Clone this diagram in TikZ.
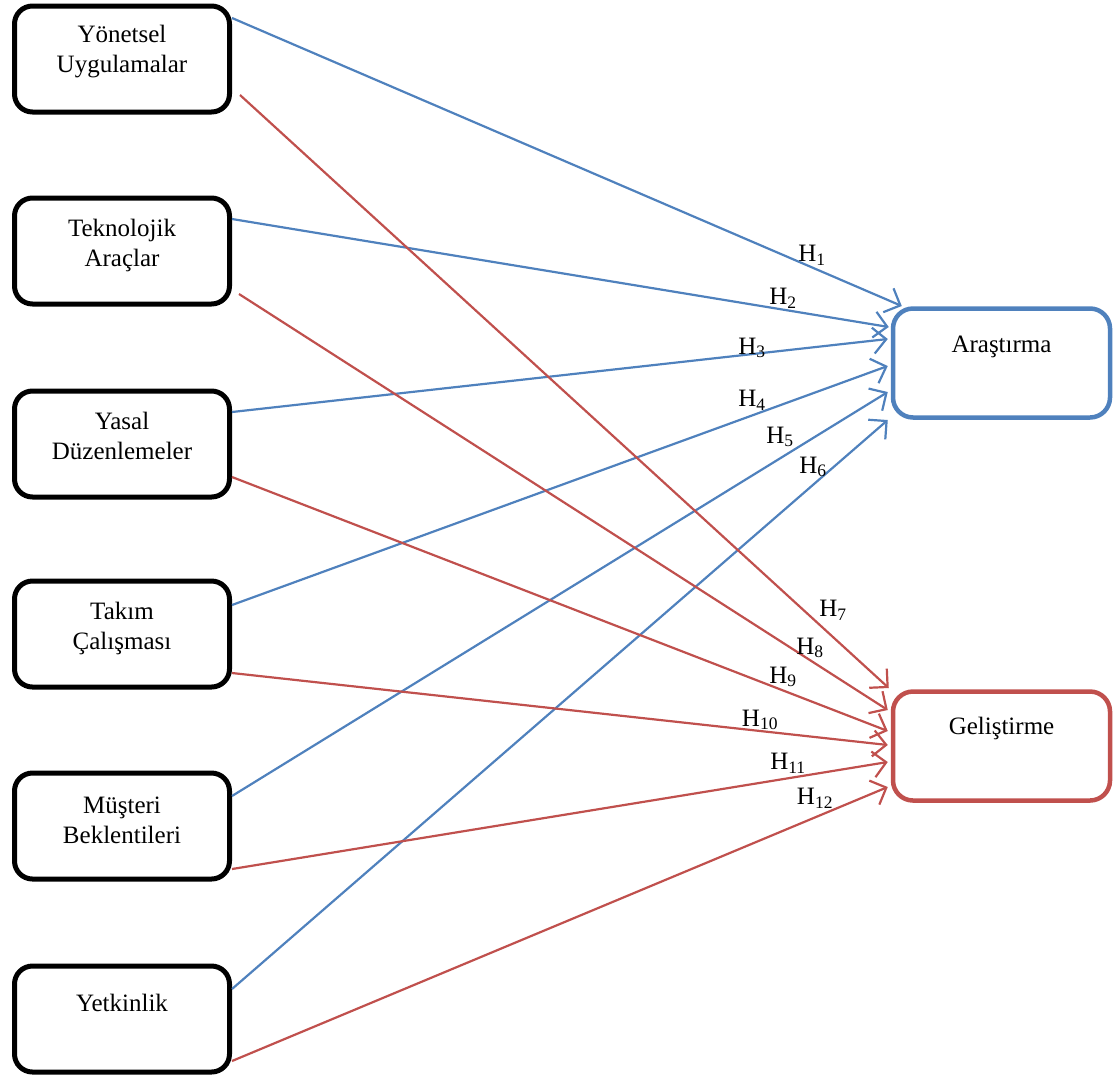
\documentclass[tikz,border=0pt]{standalone}
\usepackage{fontspec}
\setmainfont{Liberation Serif}
\usetikzlibrary{arrows.meta}
\definecolor{arblue}{HTML}{4F81BD}
\definecolor{gered}{HTML}{C0504D}
\tikzset{
	srcbox/.style={draw=black, line width=5pt, rounded corners=18pt,
		minimum width=215pt, minimum height=106pt, inner sep=0pt},
	tgtbox/.style={line width=4.5pt, rounded corners=20pt,
		minimum width=217pt, minimum height=109pt, inner sep=0pt},
	boxtext/.style={align=center, inner sep=0pt,
		font=\fontsize{25}{30}\selectfont},
	link/.style={line width=2.2pt,
		-{Straight Barb[length=13pt,width=26pt]}},
	hlabel/.style={inner sep=0pt, font=\fontsize{25}{30}\selectfont},
}
\begin{document}
\begin{tikzpicture}[x=1pt,y=-1pt]
	\useasboundingbox (0,0) rectangle (1115,1077);
	% kaynak kutulari
	\node[srcbox] (b1) at (122,59) {};
	\node[srcbox] (b2) at (122,251) {};
	\node[srcbox] (b3) at (122,444) {};
	\node[srcbox] (b4) at (122,634) {};
	\node[srcbox] (b5) at (122,826) {};
	\node[srcbox] (b6) at (122,1019) {};
	\node[boxtext] (t1) at ([yshift=7pt]b1.center) {Yönetsel\\Uygulamalar};
	\node[boxtext] (t2) at ([yshift=6pt]b2.center) {Teknolojik\\Araçlar};
	\node[boxtext] (t3) at ([yshift=8pt]b3.center) {Yasal\\Düzenlemeler};
	\node[boxtext] (t4) at ([yshift=6pt]b4.center) {Takım\\Çalışması};
	\node[boxtext] (t5) at ([yshift=6pt]b5.center) {Müşteri\\Beklentileri};
	\node[boxtext] (t6) at ([yshift=16pt]b6.center) {Yetkinlik};
	% hedef kutulari
	\node[tgtbox, draw=arblue] (ar) at (1001.5,363) {};
	\node[tgtbox, draw=gered] (ge) at (1001.5,746) {};
	\node[boxtext] (tar) at ([yshift=16pt]ar.center) {Araştırma};
	\node[boxtext] (tge) at ([yshift=18pt]ge.center) {Geliştirme};
	% arastirma oklari
	\draw[link, arblue] ([yshift=41pt]b1.east) -- ([xshift=11pt,yshift=57pt]ar.west);
	\draw[link, arblue] ([yshift=32pt]b2.east) -- ([xshift=-2pt,yshift=36pt]ar.west);
	\draw[link, arblue] ([yshift=32pt]b3.east) -- ([xshift=-3pt,yshift=24pt]ar.west);
	\draw[link, arblue] ([yshift=29pt]b4.east) -- ([xshift=-3pt,yshift=-3pt]ar.west);
	\draw[link, arblue] ([yshift=30pt]b5.east) -- ([xshift=-3pt,yshift=-29pt]ar.west);
	\draw[link, arblue] ([yshift=30pt]b6.east) -- ([xshift=-3pt,yshift=-57pt]ar.west);
	% gelistirme oklari
	\draw[link, gered] ([xshift=8pt,yshift=-36pt]b1.east) -- ([xshift=-2pt,yshift=58pt]ge.west);
	\draw[link, gered] ([xshift=7pt,yshift=-43pt]b2.east) -- ([xshift=-3pt,yshift=36pt]ge.west);
	\draw[link, gered] ([yshift=-33pt]b3.east) -- ([xshift=-3pt,yshift=15pt]ge.west);
	\draw[link, gered] ([yshift=-39pt]b4.east) -- ([xshift=-3pt,yshift=1pt]ge.west);
	\draw[link, gered] ([yshift=-43pt]b5.east) -- ([xshift=-3pt,yshift=-16pt]ge.west);
	\draw[link, gered] ([yshift=-42pt]b6.east) -- ([xshift=-3pt,yshift=-41pt]ge.west);
	% hipotez etiketleri
	\node[hlabel] (h1) at (812,255) {H\textsubscript{1}};
	\node[hlabel] (h2) at (783,298) {H\textsubscript{2}};
	\node[hlabel] (h3) at (752,348) {H\textsubscript{3}};
	\node[hlabel] (h4) at (752,400) {H\textsubscript{4}};
	\node[hlabel] (h5) at (780,437) {H\textsubscript{5}};
	\node[hlabel] (h6) at (813,467) {H\textsubscript{6}};
	\node[hlabel] (h7) at (833,610) {H\textsubscript{7}};
	\node[hlabel] (h8) at (810,648) {H\textsubscript{8}};
	\node[hlabel] (h9) at (783,677) {H\textsubscript{9}};
	\node[hlabel] (h10) at (760,720) {H\textsubscript{10}};
	\node[hlabel] (h11) at (788,763) {H\textsubscript{11}};
	\node[hlabel] (h12) at (815,798) {H\textsubscript{12}};
\end{tikzpicture}
\end{document}
